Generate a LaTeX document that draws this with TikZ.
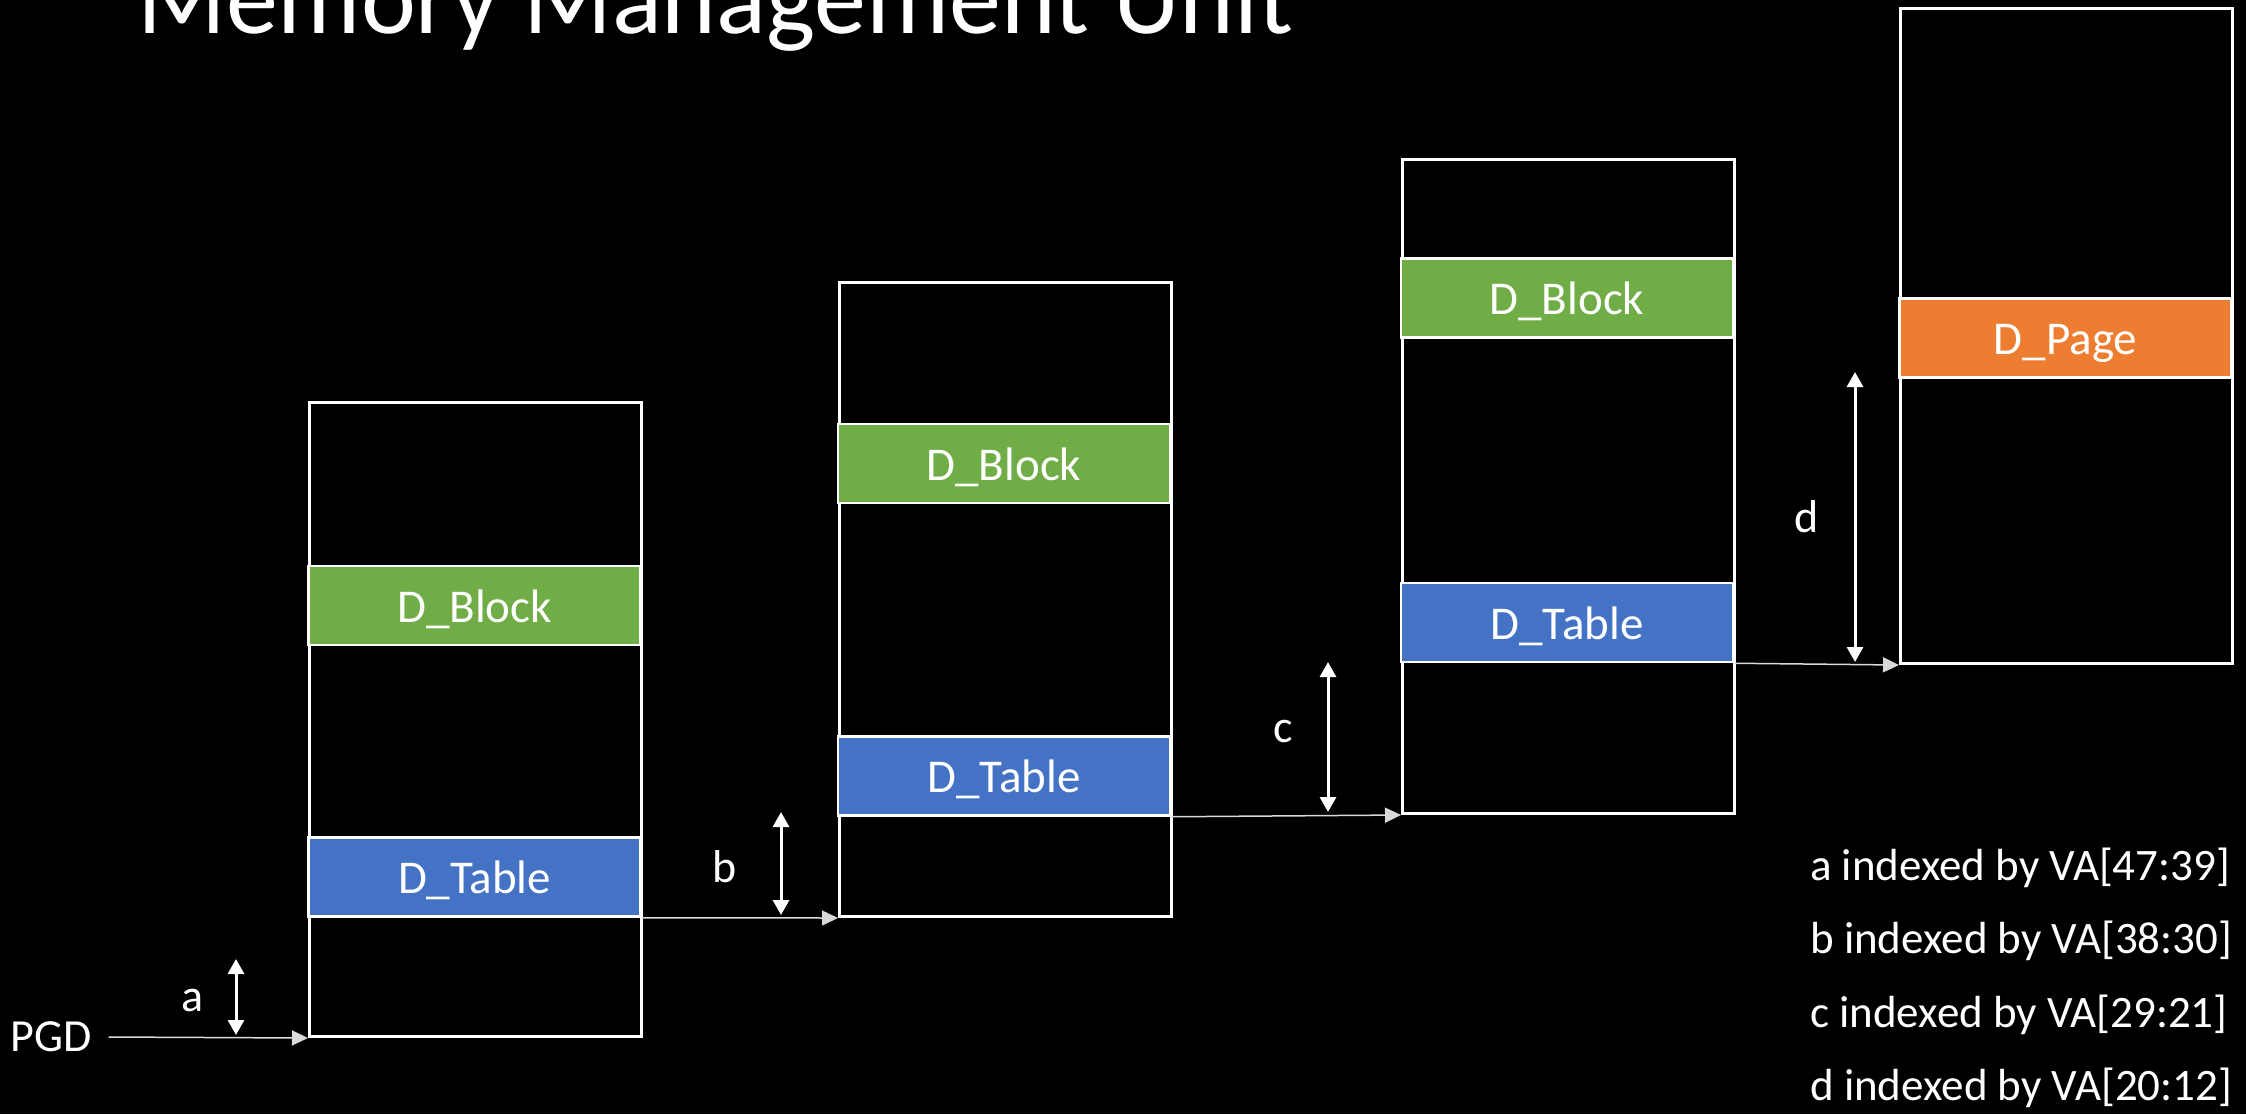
\documentclass[tikz,border=0pt]{standalone}
\usepackage{fontspec}
\setmainfont{Carlito}
\usetikzlibrary{arrows.meta}
\definecolor{blockgreen}{HTML}{70AD47}
\definecolor{tableblue}{HTML}{4472C4}
\definecolor{pageorange}{HTML}{ED7D31}
\definecolor{linkgrey}{HTML}{D9D9D9}
\begin{document}
\begin{tikzpicture}[x=1bp,y=-1bp,
  mem/.style={draw=white,line width=3bp,minimum width=332bp,inner sep=0pt,anchor=north west},
  band/.style={draw=white,line width=2.5bp,minimum width=332bp,minimum height=79bp,
    inner sep=0pt,text=white,font=\fontsize{47bp}{56bp}\selectfont,
    text height=33bp,text depth=0bp},
  lbl/.style={text=white,inner sep=0pt,font=\fontsize{46bp}{55bp}\selectfont},
  legend/.style={text=white,inner sep=0pt,anchor=base west,font=\fontsize{45bp}{54bp}\selectfont},
  link/.style={draw=linkgrey,line width=1.5bp,-{Triangle[length=16bp,width=15bp]}},
  span/.style={draw=white,line width=3bp,
    {Triangle[length=15bp,width=16bp]}-{Triangle[length=15bp,width=16bp]}}]

% page background
\path[use as bounding box,fill=black] (0,0) rectangle (2246,1114);

% heading, cut by the top edge of the page
\node[text=white,inner sep=0pt,anchor=base west,font=\fontsize{104bp}{110bp}\selectfont]
  (title) at (137,33) {Memory Management Unit};

% the four levels of tables
\node[mem,minimum height=634bp] (m1) at (308,401) {};
\node[mem,minimum height=634bp] (m2) at (838,281) {};
\node[mem,minimum height=654bp] (m3) at (1401,158) {};
\node[mem,minimum height=655bp] (m4) at (1899,7) {};

% descriptor entries
\node[band,fill=blockgreen] (blk1) at (474.5,605.5) {D\_Block};
\node[band,fill=tableblue]  (tab1) at (474.5,877)   {D\_Table};
\node[band,fill=blockgreen] (blk2) at (1004,463.5)  {D\_Block};
\node[band,fill=tableblue]  (tab2) at (1004,776)    {D\_Table};
\node[band,fill=blockgreen] (blk3) at (1567,298)    {D\_Block};
\node[band,fill=tableblue]  (tab3) at (1567,622.5)  {D\_Table};
\node[band,fill=pageorange] (pg4)  at (2065.5,338)  {D\_Page};

% walk from the base register through each level
\node[lbl,text height=29bp,text depth=0bp] (pgd) at (51,1037) {PGD};
\draw[link] ([xshift=17bp]pgd.east) -- (m1.south west);
\draw[link] (tab1.south east) -- (m2.south west);
\draw[link] (tab2.south east) -- (m3.south west);
\draw[link] (tab3.south east) -- (m4.south west);

% index offsets inside each table
\coordinate (aT) at (236,959);  \coordinate (aB) at (236,1035);
\coordinate (bT) at (781,812);  \coordinate (bB) at (781,915);
\coordinate (cT) at (1328,662); \coordinate (cB) at (1328,812);
\coordinate (dT) at (1855,372); \coordinate (dB) at (1855,662);
\draw[span] (aT) -- (aB);
\draw[span] (bT) -- (bB);
\draw[span] (cT) -- (cB);
\draw[span] (dT) -- (dB);
\node[lbl] (la) at (193,1000) {a};
\node[lbl] (lb) at (725,867)  {b};
\node[lbl] (lc) at (1283,731) {c};
\node[lbl] (ld) at (1807,517) {d};

% key to the offsets
\node[legend] (ka) at (1810,880)  {a indexed by VA[47:39]};
\node[legend] (kb) at (1810,953)  {b indexed by VA[38:30]};
\node[legend] (kc) at (1810,1027) {c indexed by VA[29:21]};
\node[legend] (kd) at (1810,1100) {d indexed by VA[20:12]};
\end{tikzpicture}
\end{document}
